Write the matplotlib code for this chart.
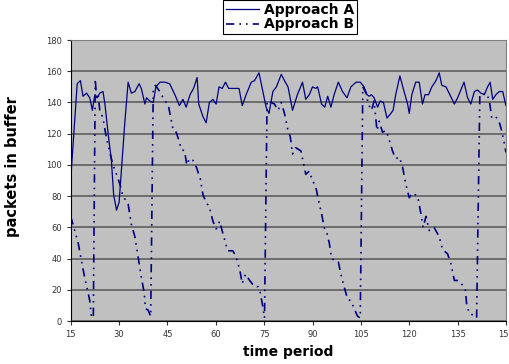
import matplotlib
matplotlib.use('Agg')
import matplotlib.pyplot as plt

#                   Data

a_time = [15, 17, 18, 18.8, 19.9, 20.9, 21.7, 22.4, 23.2, 24, 25, 25.6, 26.6, 27.6, 28.3,
          29.2, 30, 30.7, 31.8, 32.8, 33.8, 34.9, 36.2, 36.9, 38, 38.5, 39.5, 40.6, 41.4,
          42.7, 44.2, 45.7, 47.3, 48.7, 49.8, 50.8, 52, 53.1, 54.2, 54.7, 56, 57, 58, 59.1,
          60.1, 61, 62, 63, 64, 65.8, 67.2, 68.2, 69.4, 71, 72, 73.4, 74.4, 75.6, 76.5,
          77.7, 78.8, 80.3, 81.3, 82.4, 83.8, 85.3, 86.9, 87.9, 89, 90, 91, 91.6, 92.8,
          93.8, 94.7, 95.7, 96.7, 98, 99.3, 100.7, 101.9, 103.5, 104.8, 106, 106.9, 107.6,
          108.3, 109.1, 110.2, 111, 112, 113.1, 114.3, 115, 115.8, 117.1, 118.4, 119.5,
          120, 120.8, 122, 123.1, 124.1, 124.9, 126, 127, 128.3, 129.3, 130.1, 131.4,
          132.6, 134, 135, 136, 137, 138.1, 139.1, 140.2, 141.2, 142.2, 143.3, 144.3,
          145.1, 145.9, 146.9, 147.9, 149, 150]
a_packets = [91, 152, 154, 144, 146, 143, 135, 144, 143, 146, 147, 139, 120, 103, 81,
             71, 76, 96, 128, 153, 146, 147, 152, 149, 139, 143, 141, 140, 150,
             153, 153, 152, 145, 138, 142, 137, 145, 149, 156, 139, 131, 127, 140, 142,
             139, 150, 149, 153, 149, 149, 149, 138, 145, 153, 154, 159, 149, 137, 133,
             147, 150, 158, 154, 150, 135, 145, 153, 142, 145, 150, 149, 150, 139,
             137, 144, 137, 145, 153, 147, 143, 150, 153, 153, 150, 145, 144,
             145, 143, 137, 141, 140, 130, 133, 135, 145, 157, 147, 139,
             133, 145, 153, 153, 139, 145, 145, 150, 154, 159, 151, 150,
             145, 139, 143, 148, 153, 143, 139, 147, 148, 146, 145, 150,
             153, 142, 145, 147, 147, 138]

b_time = [15, 16.2, 17.3, 18.3, 19.3, 20.2, 20.9, 21.4, 22, 22.6, 23, 23.5, 24, 25, 26,
          27, 28.1, 29.2, 30.2, 31.2, 32.8, 33.8, 34.9, 35.9, 36.9, 37.8, 38.2, 39, 39.8,
          40.6, 41.3, 42.6, 44.2, 45.2, 46.8, 47.7, 48.5, 49.3, 50.3, 51, 51.8, 52.9,
          53.9, 55.2, 56, 57, 58, 59.1, 60.1, 61.2, 62.2, 63.7, 65.3, 66.3, 67.4, 68.2,
          69.2, 70.5, 72, 73.1, 73.8, 74.6, 75.1, 75.9, 77.2, 78.2, 79.3, 80.3, 81.3,
          82.3, 83.1, 83.8, 84.8, 86.4, 87.4, 87.9, 89, 90, 91, 92.1, 92.8, 93.6, 94.5,
          95.2, 95.9, 96.7, 98, 98.8, 99.8, 100.9, 101.9, 102.9, 104, 104.8, 105.6,
          106.6, 107.3, 108.3, 109.1, 110, 110.7, 111.7, 112.8, 113.8, 114.8, 115.8,
          116.9, 117.9, 118.9, 120, 121, 122.6, 123.6, 124.3, 125.2, 126.2, 127.7,
          129.3, 130.3, 131.9, 132.9, 134, 135.3, 136.5, 137.4, 137.8, 138.6, 139.6,
          140.9, 141.9, 142.7, 143.8, 144.8, 145.6, 146.7, 147.7, 148.4, 149.3, 150]
b_packets = [67, 58, 50, 39, 28, 20, 13, 3, 2, 155, 143, 145, 135, 130, 118,
             109, 100, 94, 88, 80, 75, 62, 54, 41, 28, 18, 8, 7, 3,
             149, 151, 147, 141, 139, 122, 121, 116, 110, 109, 100, 104, 103,
             99, 91, 81, 76, 73, 64, 59, 64, 56, 45, 45, 41, 33, 24,
             30, 26, 22, 22, 18, 9, 2, 141, 140, 139, 135, 140, 133,
             123, 118, 107, 111, 109, 99, 94, 96, 90, 86, 75, 69, 60, 56,
             50, 40, 39, 38, 30, 22, 14, 13, 8, 3, 2, 150,
             146, 139, 135, 141, 122, 128, 121, 122, 116, 109, 104,
             105, 99, 88, 79, 82, 80, 69, 60, 67, 58, 60,
             54, 46, 43, 37, 26, 26, 23, 20, 11, 5, 4,
             2, 145, 145, 146, 142, 130, 131, 129, 124, 116, 108]

x_ticks = list(range(15, 151, 15))
y_ticks = list(range(0, 181, 20))

line_color = '#000080'

#                   Plot

fig = plt.figure(figsize=(5.09, 3.64), dpi=100)
ax = fig.add_axes([0.139, 0.118, 0.855, 0.772])
ax.set_facecolor('#C0C0C0')

ax.plot(a_time, a_packets, color=line_color, lw=0.9, label='Approach A')
ax.plot(b_time, b_packets, color=line_color, lw=1.2,
        dashes=(5, 3, 1, 3, 1, 3), label='Approach B')

ax.set_xlim(15, 150)
ax.set_ylim(0, 180)
ax.set_xticks(x_ticks)
ax.set_yticks(y_ticks)
ax.grid(axis='y', color='#555555', lw=1.1)
ax.set_axisbelow(True)

for side in ['top', 'right']:
    ax.spines[side].set_color('#808080')
for side in ['left', 'bottom']:
    ax.spines[side].set_color('black')

ax.tick_params(axis='both', labelsize=6, colors='#333333', length=3, width=0.8)
ax.set_xlabel('time period', fontsize=10, fontweight='bold', labelpad=4)
ax.set_ylabel('packets in buffer', fontsize=10.5, fontweight='bold')
ax.yaxis.set_label_coords(-0.117, 0.55)

leg = fig.legend(loc='upper center', bbox_to_anchor=(0.570, 1.0), ncol=1,
                 prop={'size': 10, 'weight': 'bold'}, frameon=True, fancybox=False,
                 edgecolor='black', framealpha=1, borderpad=0.2, labelspacing=0.05,
                 handlelength=2.4, handletextpad=0.4, borderaxespad=0)
leg.get_frame().set_linewidth(0.8)

fig.savefig('out.png', dpi=100)
